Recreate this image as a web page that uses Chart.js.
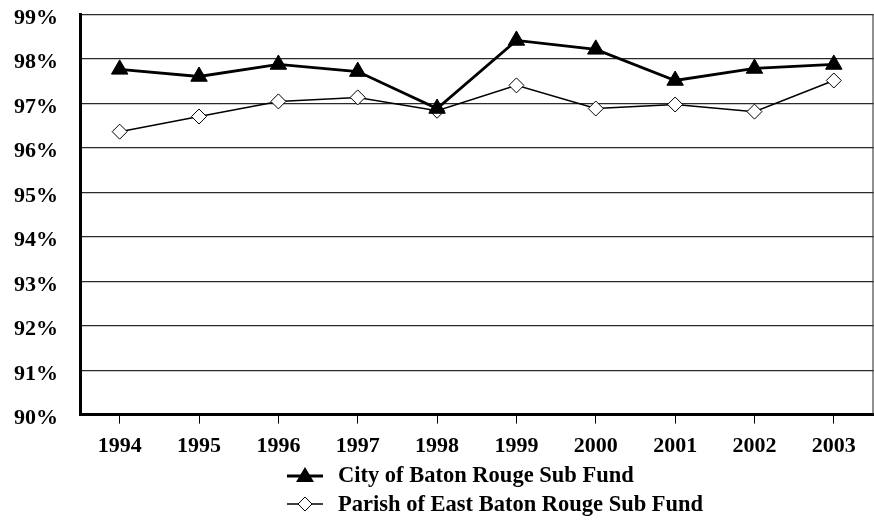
<!DOCTYPE html>
<html>
<head>
<meta charset="utf-8">
<script src="https://cdn.jsdelivr.net/npm/chart.js@4.4.1/dist/chart.umd.min.js"></script>
<style>
  html, body { margin: 0; padding: 0; background: #fff; overflow: hidden; }
  #wrap { position: relative; width: 874px; height: 523px; overflow: hidden; }
  #myChart { position: absolute; left: 0; top: -2px; }
  #legend { position: absolute; left: 287px; top: 460px; font: bold 22.5px "Liberation Serif", serif; color: #000; }
  .row { display: flex; align-items: center; height: 29px; }
  .row svg { margin-right: 15px; }
</style>
</head>
<body>
<div id="wrap">
  <canvas id="myChart" width="884" height="525"></canvas>
  <div id="legend"></div>
</div>
<script>
let anos = ['1994', '1995', '1996', '1997', '1998', '1999', '2000', '2001', '2002', '2003']
let cidade = [97.76, 97.60, 97.87, 97.71, 96.88, 98.41, 98.21, 97.51, 97.78, 97.87]
let paroquia = [96.36, 96.70, 97.04, 97.13, 96.83, 97.40, 96.88, 96.97, 96.81, 97.51]
let nomes = ['City of Baton Rouge Sub Fund', 'Parish of East Baton Rouge Sub Fund']
let yTicks = ['90%', '91%', '92%', '93%', '94%', '95%', '96%', '97%', '98%', '99%']

let fonte = { family: '"Liberation Serif", serif', weight: 'bold', size: 22 }

// linha da borda direita do grafico
let bordaDireita = {
  id: 'bordaDireita',
  afterDraw: function(chart) {
    let a = chart.chartArea
    let c = chart.ctx
    c.save()
    c.strokeStyle = '#222'
    c.lineWidth = 1
    c.beginPath()
    c.moveTo(a.right - 0.5, a.top)
    c.lineTo(a.right - 0.5, a.bottom)
    c.stroke()
    c.restore()
  }
}

let ctx = document.getElementById('myChart')
let grafico = new Chart(ctx, {
  type: 'line',
  data: {
    labels: anos,
    datasets: [{
      label: nomes[0],
      data: cidade,
      borderColor: '#000',
      borderWidth: 2.8,
      pointStyle: 'triangle',
      pointRadius: 9.5,
      pointBackgroundColor: '#000',
      pointBorderColor: '#000',
      pointBorderWidth: 1,
      tension: 0,
    }, {
      label: nomes[1],
      data: paroquia,
      borderColor: '#000',
      borderWidth: 1.5,
      pointStyle: 'rectRot',
      pointRadius: 7.5,
      pointBackgroundColor: '#fff',
      pointBorderColor: '#000',
      pointBorderWidth: 1,
      tension: 0,
    }],
  },
  plugins: [bordaDireita],
  options: {
    responsive: false,
    animation: false,
    layout: { padding: { left: 11, top: 0, right: 1, bottom: 53 } },
    plugins: { legend: { display: false }, tooltip: { enabled: false } },
    scales: {
      x: {
        offset: true,
        grid: { offset: false, drawOnChartArea: false, drawTicks: true, tickLength: 9, color: '#000', lineWidth: 1 },
        border: { display: true, color: '#000', width: 3 },
        ticks: { color: '#000', font: fonte, padding: 10, maxRotation: 0 },
      },
      y: {
        min: 90,
        max: 99,
        ticks: {
          stepSize: 1,
          color: '#000',
          font: fonte,
          padding: 3,
          labelOffset: 4,
          callback: function(v) { return yTicks[Math.round(v - 90)] },
        },
        grid: { color: '#2a2a2a', lineWidth: 1.2, drawTicks: true, tickLength: 19, tickColor: 'rgba(0,0,0,0)' },
        border: { display: true, color: '#000', width: 3 },
      },
    },
  },
})

// legenda em html
let simbolos = [
  '<svg width="36" height="20"><line x1="0" y1="11" x2="36" y2="11" stroke="#000" stroke-width="2.8"/><polygon points="18,2 27,17 9,17" fill="#000"/></svg>',
  '<svg width="36" height="20"><line x1="0" y1="10" x2="36" y2="10" stroke="#000" stroke-width="1.5"/><polygon points="18,3 25,10 18,17 11,10" fill="#fff" stroke="#000" stroke-width="1"/></svg>',
]
let leg = document.getElementById('legend')
leg.innerHTML = nomes.map(function(n, i) {
  return '<div class="row">' + simbolos[i] + '<span>' + n + '</span></div>'
}).join('')
</script>
</body>
</html>
